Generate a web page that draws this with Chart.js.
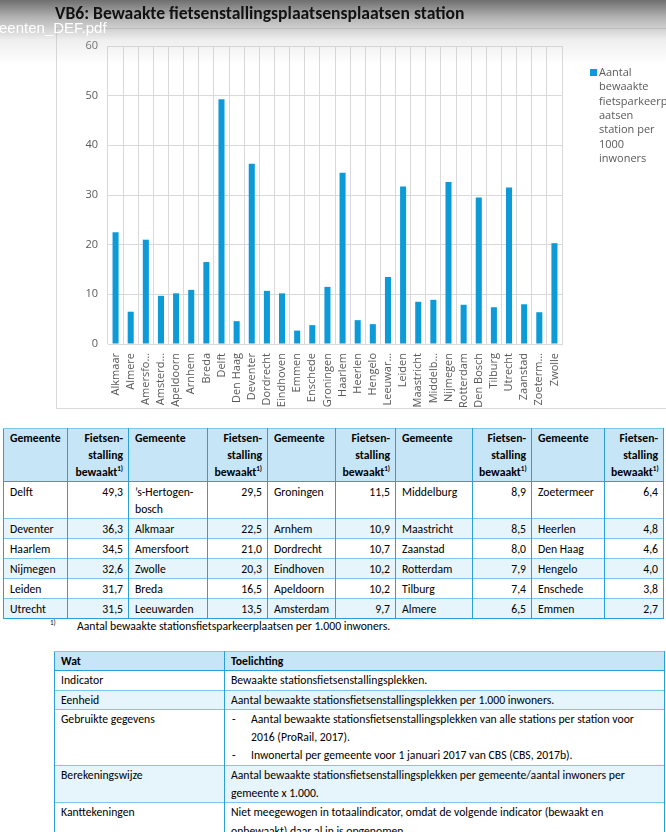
<!DOCTYPE html>
<html>
<head>
<meta charset="utf-8">
<script src="https://cdn.jsdelivr.net/npm/chart.js@4.4.1/dist/chart.umd.min.js"></script>
<style>
  html, body { margin: 0; padding: 0; background: #fff; }
  body { width: 666px; height: 832px; overflow: hidden; position: relative; font-family: Carlito, Calibri, Lato, sans-serif; color: #000; }
  .title { position: absolute; left: 55px; top: 2px; font: bold 17.6px Carlito, Calibri, Lato, sans-serif; color: #111; white-space: nowrap; }
  .shade { position: absolute; left: 0; top: 0; width: 666px; height: 64px; pointer-events: none;
    background: linear-gradient(to bottom, rgba(70,70,70,0.78) 0px, rgba(120,120,120,0.55) 18px, rgba(200,200,200,0.3) 40px, rgba(255,255,255,0) 64px); }
  .fname { position: absolute; left: -1px; top: 19px; font: 15px "Liberation Sans", Arial, sans-serif; color: #fff; white-space: nowrap; }
  .chartbox { position: absolute; left: 56px; top: 28px; width: 620px; height: 379px; border: 1px solid #d9d9d9; }
  #chart { position: absolute; left: 57px; top: 29px; }
  table { border-collapse: collapse; table-layout: fixed; position: absolute; font-size: 11.7px; }
  #t1 { left: 3px; top: 428px; width: 661px; border: 1px solid #2a9fd8; }
  #t1 td, #t1 th { border-left: 1px solid #2a9fd8; border-right: 1px solid #2a9fd8; border-top: 1px solid #7cc7ec; padding: 2px 5px 0 6px; line-height: 17px; vertical-align: top; white-space: pre-line; overflow: hidden; }
  #t1 th { background: #c6e6f7; font-weight: bold; text-align: left; border-bottom: 1px solid #2a9fd8; padding-top: 1px; }
  #t1 th.v, #t1 td.v { text-align: right; }
  #t1 tr.alt td, #t2 tr.alt td { background: #e6f4fc; }
  sup { font-size: 7px; vertical-align: 5px; line-height: 0; }
  .note { position: absolute; left: 50px; top: 619px; font-size: 11.7px; white-space: nowrap; }
  .note span { position: absolute; left: 27px; top: 0; }
  #t2 { left: 54px; top: 651px; width: 610px; border: 1px solid #2a9fd8; }
  #t2 td, #t2 th { border-left: 1px solid #2a9fd8; border-right: 1px solid #2a9fd8; border-top: 1px solid #7cc7ec; padding: 0 6px; line-height: 18.3px; vertical-align: top; text-align: left; }
  #t2 th { background: #c6e6f7; font-weight: bold; border-bottom: 1px solid #2a9fd8; }
  #t2 .dash { display: block; padding-left: 20px; position: relative; }
  #t2 .dash::before { content: "-"; position: absolute; left: 1px; }
</style>
</head>
<body>
<div class="chartbox"></div>
<canvas id="chart" width="609" height="378"></canvas>
<table id="t1"></table>
<div class="note"><sup>1)</sup><span>Aantal bewaakte stationsfietsparkeerplaatsen per 1.000 inwoners.</span></div>
<table id="t2"></table>
<div class="shade"></div>
<div class="title">VB6: Bewaakte fietsenstallingsplaatsensplaatsen station</div>
<div class="fname">eenten_DEF.pdf</div>
<script>
// chart data
const gemeenten = ['Alkmaar', 'Almere', 'Amersfo…', 'Amsterd…', 'Apeldoorn', 'Arnhem', 'Breda', 'Delft',
  'Den Haag', 'Deventer', 'Dordrecht', 'Eindhoven', 'Emmen', 'Enschede', 'Groningen', 'Haarlem',
  'Heerlen', 'Hengelo', 'Leeuwar…', 'Leiden', 'Maastricht', 'Middelb…', 'Nijmegen', 'Rotterdam',
  'Den Bosch', 'Tilburg', 'Utrecht', 'Zaanstad', 'Zoeterm…', 'Zwolle'];
const waarden = [22.5, 6.5, 21.0, 9.7, 10.2, 10.9, 16.5, 49.3, 4.6, 36.3, 10.7, 10.2, 2.7, 3.8, 11.5, 34.5,
  4.8, 4.0, 13.5, 31.7, 8.5, 8.9, 32.6, 7.9, 29.5, 7.4, 31.5, 8.0, 6.4, 20.3];
const yTicks = [0, 10, 20, 30, 40, 50, 60];
const legendLines = ['Aantal', 'bewaakte', 'fietsparkeerpl', 'aatsen', 'station per', '1000', 'inwoners'];

// ranking table (column by column, 6 per column)
const rangGemeenten = ['Delft', 'Deventer', 'Haarlem', 'Nijmegen', 'Leiden', 'Utrecht',
  '’s-Hertogen-\nbosch', 'Alkmaar', 'Amersfoort', 'Zwolle', 'Breda', 'Leeuwarden',
  'Groningen', 'Arnhem', 'Dordrecht', 'Eindhoven', 'Apeldoorn', 'Amsterdam',
  'Middelburg', 'Maastricht', 'Zaanstad', 'Rotterdam', 'Tilburg', 'Almere',
  'Zoetermeer', 'Heerlen', 'Den Haag', 'Hengelo', 'Enschede', 'Emmen'];
const rangWaarden = ['49,3', '36,3', '34,5', '32,6', '31,7', '31,5',
  '29,5', '22,5', '21,0', '20,3', '16,5', '13,5',
  '11,5', '10,9', '10,7', '10,2', '10,2', '9,7',
  '8,9', '8,5', '8,0', '7,9', '7,4', '6,5',
  '6,4', '4,8', '4,6', '4,0', '3,8', '2,7'];

const watRows = ['Indicator', 'Eenheid', 'Gebruikte gegevens', 'Berekeningswijze', 'Kanttekeningen'];
const toelichting = [
  'Bewaakte stationsfietsenstallingsplekken.',
  'Aantal bewaakte stationsfietsenstallingsplekken per 1.000 inwoners.',
  ['Aantal bewaakte stationsfietsenstallingsplekken van alle stations per station voor 2016 (ProRail, 2017).',
   'Inwonertal per gemeente voor 1 januari 2017 van CBS (CBS, 2017b).'],
  'Aantal bewaakte stationsfietsenstallingsplekken per gemeente/aantal inwoners per gemeente x 1.000.',
  'Niet meegewogen in totaalindicator, omdat de volgende indicator (bewaakt en onbewaakt) daar al in is opgenomen.'
];

const barColor = '#0d9bd8';
const axisGrey = '#595959';

const sideLegend = {
  id: 'sideLegend',
  afterDraw(chart) {
    const { ctx, chartArea } = chart;
    const x = chartArea.right + 28;
    const y0 = chartArea.top + 27;
    ctx.save();
    ctx.fillStyle = barColor;
    ctx.fillRect(x, y0 - 4, 7, 7);
    ctx.fillStyle = axisGrey;
    ctx.font = '11px "Open Sans"';
    ctx.textBaseline = 'middle';
    legendLines.forEach((t, i) => ctx.fillText(t, x + 9, y0 + i * 14.3));
    ctx.restore();
  }
};

new Chart(document.getElementById('chart'), {
  type: 'bar',
  data: {
    labels: gemeenten,
    datasets: [{
      label: legendLines.join(' '),
      data: waarden,
      backgroundColor: barColor,
      barPercentage: 0.4,
      categoryPercentage: 1
    }]
  },
  options: {
    responsive: false,
    animation: false,
    layout: { padding: { top: 17, right: 104, left: 0, bottom: 0 } },
    plugins: { legend: { display: false }, tooltip: { enabled: false } },
    scales: {
      x: {
        grid: { color: '#d9d9d9', drawTicks: false, offset: true },
        border: { color: '#d9d9d9' },
        ticks: { autoSkip: false, minRotation: 90, maxRotation: 90, padding: 9, color: axisGrey, font: { family: 'Open Sans', size: 11 } },
        afterFit: s => { s.height = 63; }
      },
      y: {
        min: 0, max: 60,
        afterBuildTicks: s => { s.ticks = yTicks.map(v => ({ value: v })); },
        grid: { color: '#d9d9d9', drawTicks: false },
        border: { display: false },
        ticks: { padding: 10, color: axisGrey, font: { family: 'Open Sans', size: 11 } },
        afterFit: s => { s.width = 51; }
      }
    }
  },
  plugins: [sideLegend]
});

// table 1
const colW = [64, 61, 79, 60, 68, 60, 77, 59, 73, 59];
const t1 = document.getElementById('t1');
let html = '<colgroup>' + colW.map(w => '<col style="width:' + w + 'px">').join('') + '</colgroup>';
html += '<tr style="height:53px">';
for (let c = 0; c < 5; c++) {
  html += '<th>Gemeente</th><th class="v">Fietsen-\nstalling\nbewaakt<sup>1)</sup></th>';
}
html += '</tr>';
const rowH = [36, 19.2, 19.2, 19.2, 19.2, 19.2];
for (let r = 0; r < 6; r++) {
  html += '<tr' + (r % 2 ? ' class="alt"' : '') + ' style="height:' + rowH[r] + 'px">';
  for (let c = 0; c < 5; c++) {
    const i = c * 6 + r;
    html += '<td>' + rangGemeenten[i] + '</td><td class="v">' + rangWaarden[i] + '</td>';
  }
  html += '</tr>';
}
t1.innerHTML = html;

// table 2
const t2 = document.getElementById('t2');
let h2 = '<colgroup><col style="width:170px"><col style="width:440px"></colgroup>';
h2 += '<tr><th>Wat</th><th>Toelichting</th></tr>';
watRows.forEach((w, i) => {
  const t = toelichting[i];
  const cell = Array.isArray(t) ? t.map(s => '<span class="dash">' + s + '</span>').join('') : t;
  h2 += '<tr' + (i % 2 ? ' class="alt"' : '') + '><td>' + w + '</td><td>' + cell + '</td></tr>';
});
t2.innerHTML = h2;
</script>
</body>
</html>
